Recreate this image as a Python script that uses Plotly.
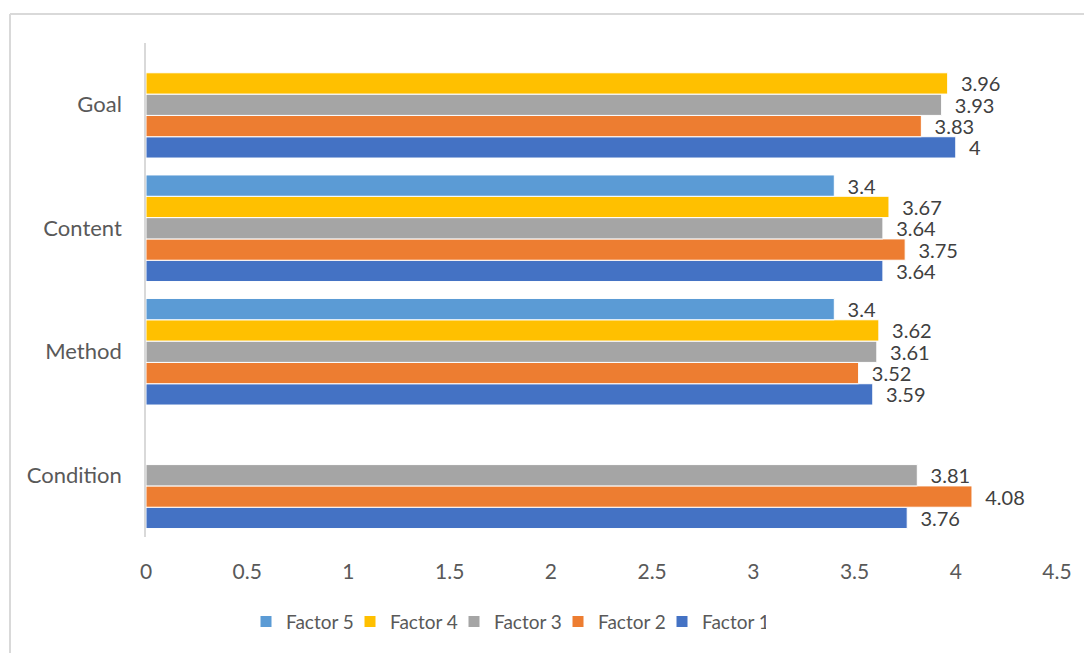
import plotly.graph_objects as go

categories = ["Condition", "Method", "Content", "Goal"]
series_names = ["Factor 1", "Factor 2", "Factor 3", "Factor 4", "Factor 5"]
factor1 = [3.76, 3.59, 3.64, 4]
factor2 = [4.08, 3.52, 3.75, 3.83]
factor3 = [3.81, 3.61, 3.64, 3.93]
factor4 = [None, 3.62, 3.67, 3.96]
factor5 = [None, 3.4, 3.4, None]
colors = ["#4472C4", "#ED7D31", "#A5A5A5", "#FFC000", "#5B9BD5"]
x_ticks = [0, 0.5, 1, 1.5, 2, 2.5, 3, 3.5, 4, 4.5]

FONT = "Lato"
OFF = 8  # page body margin
W, H = 1092 - OFF, 653 - OFF
L, R, T, B = 146 - OFF, 35, 43 - OFF, 114

fig = go.Figure()
for name, vals, col in zip(series_names, [factor1, factor2, factor3, factor4, factor5], colors):
    fig.add_trace(go.Bar(
        y=categories, x=vals, name=name, orientation="h",
        marker=dict(color=col, line=dict(color="white", width=1)),
        text=[("" if v is None else f"{v:g}") for v in vals],
        texttemplate="\u00a0\u00a0%{text}",
        textposition="outside",
        constraintext="none",
        textfont=dict(family=FONT, size=20, color="#404040"),
        cliponaxis=False,
    ))

pw = W - L - R
ph = H - T - B
bx = (10 - OFF - L) / pw
by = (H - B - (14 - OFF)) / ph

fig.update_layout(
    width=W, height=H,
    margin=dict(l=L, r=R, t=T, b=B),
    paper_bgcolor="white", plot_bgcolor="white",
    barmode="group", bargap=0.137, bargroupgap=0,
    font=dict(family=FONT, color="#595959"),
    showlegend=True,
    legend=dict(orientation="h", traceorder="reversed",
                x=(506 - OFF - L) / pw, xanchor="center",
                y=(H - B - (624 - OFF)) / ph, yanchor="middle",
                font=dict(family=FONT, size=19, color="#595959"),
                itemwidth=30, entrywidth=59, entrywidthmode="pixels"),
    xaxis=dict(range=[0, 4.5], tickvals=x_ticks, ticktext=[f"{t:g}" for t in x_ticks],
               showgrid=False, zeroline=False, showline=False,
               tickfont=dict(family=FONT, size=21, color="#595959"),
               ticks="outside", ticklen=16, tickcolor="rgba(0,0,0,0)"),
    yaxis=dict(categoryorder="array", categoryarray=categories,
               showgrid=False, zeroline=False, showline=True, linecolor="#D9D9D9", linewidth=1.5,
               tickfont=dict(family=FONT, size=22, color="#595959"),
               ticks="outside", ticklen=18, tickcolor="rgba(0,0,0,0)"),
    shapes=[
        dict(type="line", xref="paper", yref="paper", x0=bx, x1=1.2, y0=by, y1=by,
             line=dict(color="#D9D9D9", width=2)),
        dict(type="line", xref="paper", yref="paper", x0=bx, x1=bx, y0=by, y1=-0.5,
             line=dict(color="#D9D9D9", width=2)),
    ],
)

fig.write_html("out.html")
